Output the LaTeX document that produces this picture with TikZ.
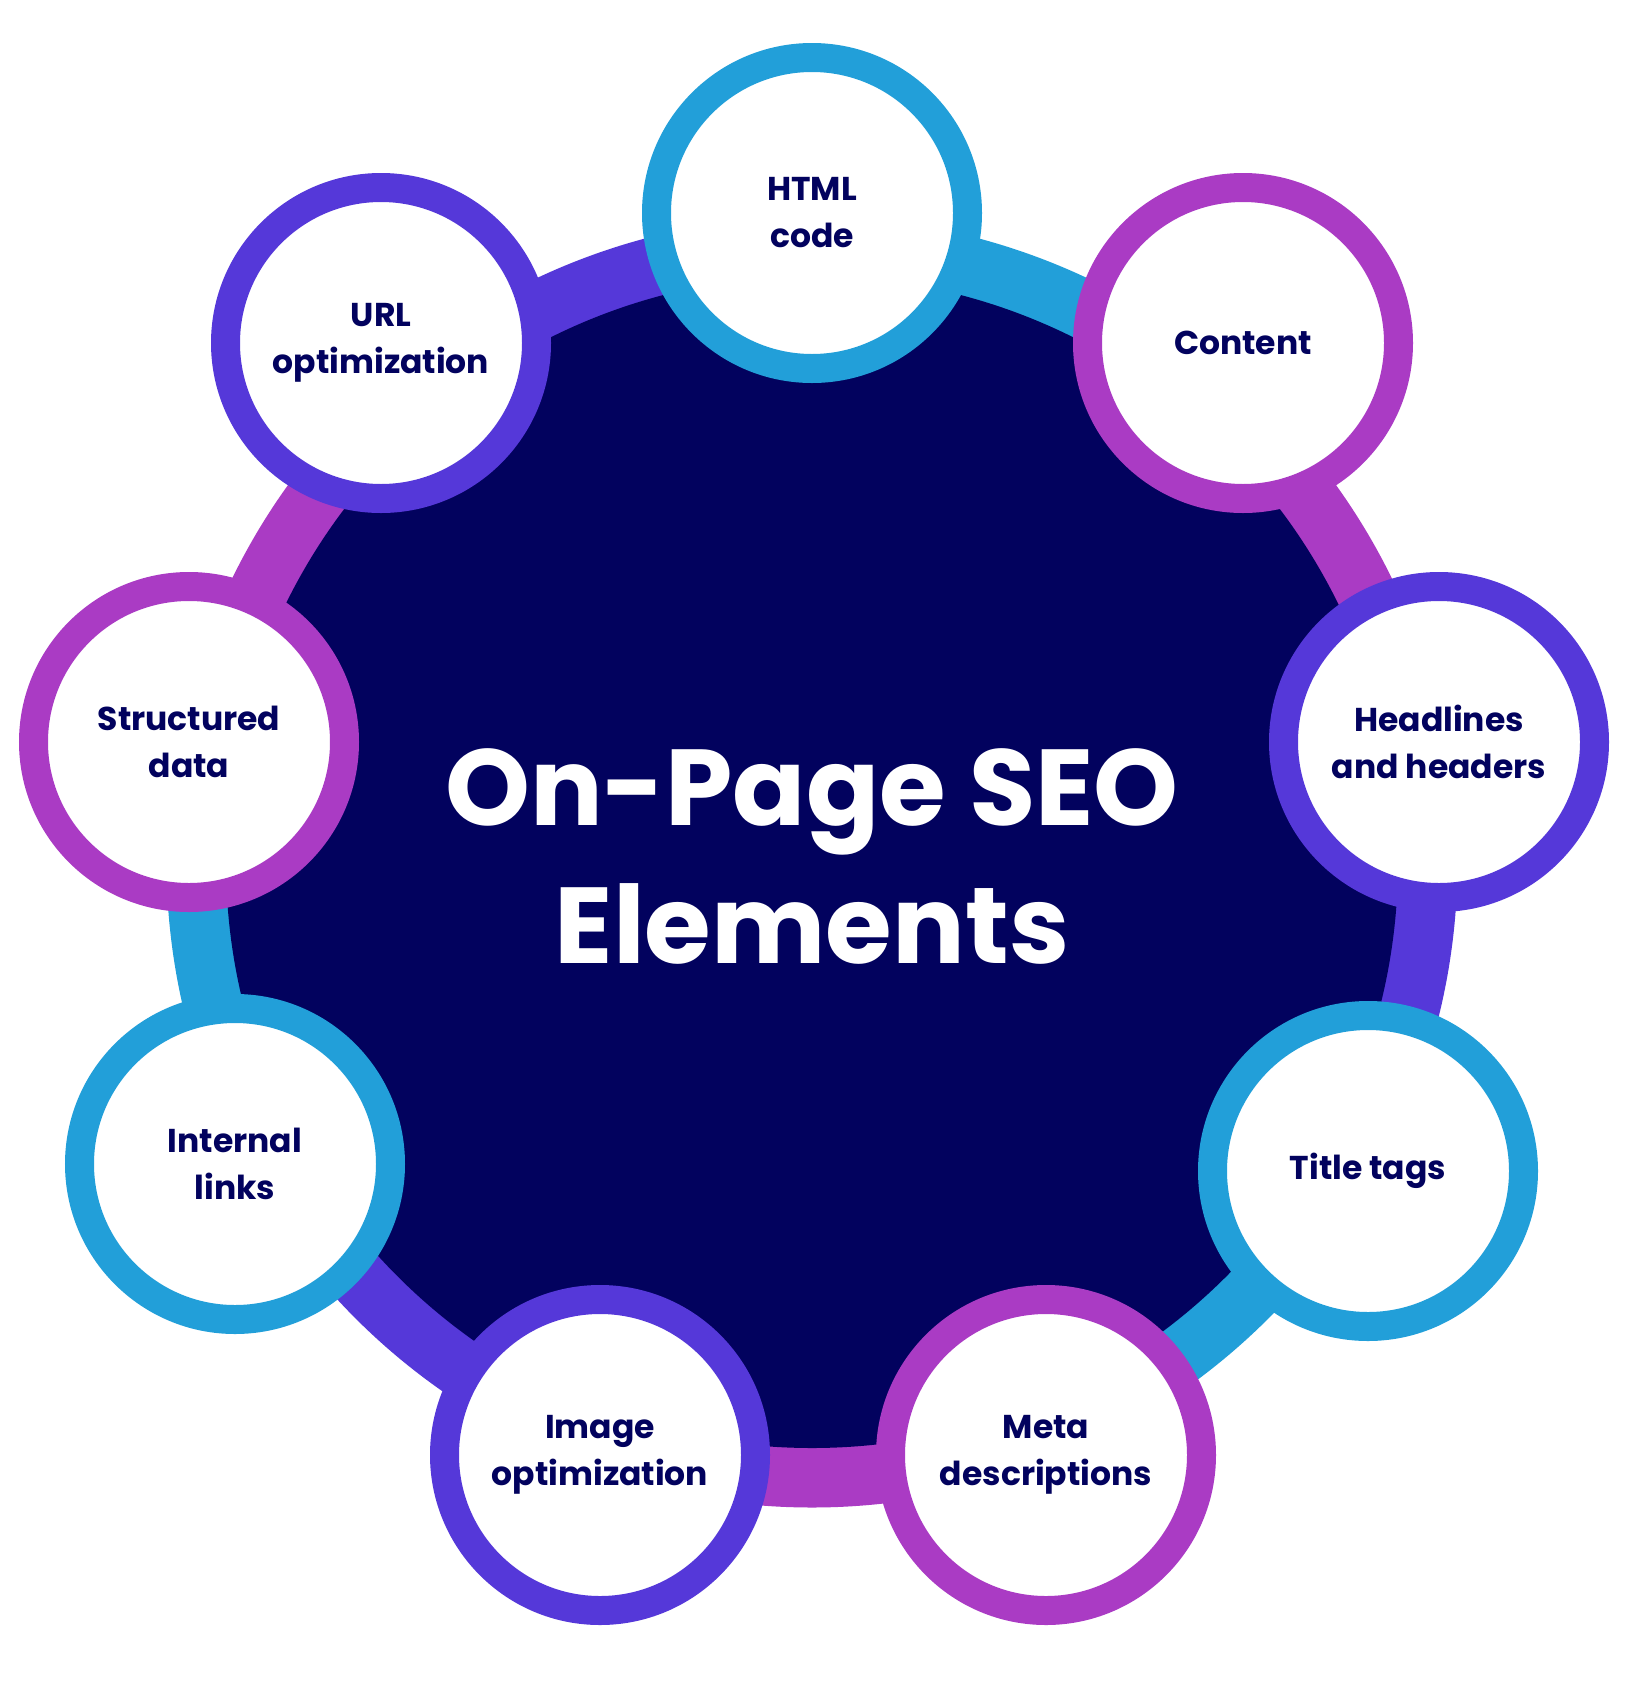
\documentclass[tikz,border=0pt]{standalone}
\usepackage{fontspec}
\setmainfont{Poppins}
\definecolor{seonavy}{HTML}{02025E}
\definecolor{seocyan}{HTML}{229FD9}
\definecolor{seopink}{HTML}{AA3BC4}
\definecolor{seoviolet}{HTML}{5538D9}
\tikzset{
  topic/.style={circle,draw=#1,fill=white,line width=29pt,minimum size=311pt,inner sep=0pt,
    align=center,text=seonavy,font=\fontsize{33}{47}\selectfont\bfseries},
  band/.style={line width=61pt,draw=#1}
}
\begin{document}
\begin{tikzpicture}[x=1pt,y=1pt]
\useasboundingbox (0,0) rectangle (1650,-1700);
\coordinate (C) at (812,-862);
% outer band, one arc per topic
\draw[band=seocyan]   (C) ++(90:615)   arc (90:50:615);
\draw[band=seopink]   (C) ++(50:615)   arc (50:10:615);
\draw[band=seoviolet] (C) ++(10:615)   arc (10:-30:615);
\draw[band=seocyan]   (C) ++(-30:615)  arc (-30:-70:615);
\draw[band=seopink]   (C) ++(-70:615)  arc (-70:-110:615);
\draw[band=seoviolet] (C) ++(-110:615) arc (-110:-150:615);
\draw[band=seocyan]   (C) ++(-150:615) arc (-150:-190:615);
\draw[band=seopink]   (C) ++(170:615)  arc (170:130:615);
\draw[band=seoviolet] (C) ++(130:615)  arc (130:90:615);
\fill[seonavy] (C) circle (586);
% topics
\node[topic=seocyan]   (html)  at (812,-213)  {HTML\\code};
\node[topic=seopink]   (cont)  at (1243,-343) {Content};
\node[topic=seoviolet] (head)  at (1439,-742) {Headlines\\and headers};
\node[topic=seocyan]   (title) at (1368,-1171) {Title tags};
\node[topic=seopink]   (meta)  at (1046,-1455) {Meta\\descriptions};
\node[topic=seoviolet] (img)   at (600,-1455) {Image\\optimization};
\node[topic=seocyan]   (link)  at (235,-1164) {Internal\\links};
\node[topic=seopink]   (data)  at (189,-742) {Structured\\data};
\node[topic=seoviolet] (url)   at (381,-343) {URL\\optimization};
% title
\node[text=white,align=center,font=\fontsize{108}{138}\selectfont\bfseries] (main) at (812,-856) {On-Page SEO\\Elements};
\end{tikzpicture}
\end{document}
